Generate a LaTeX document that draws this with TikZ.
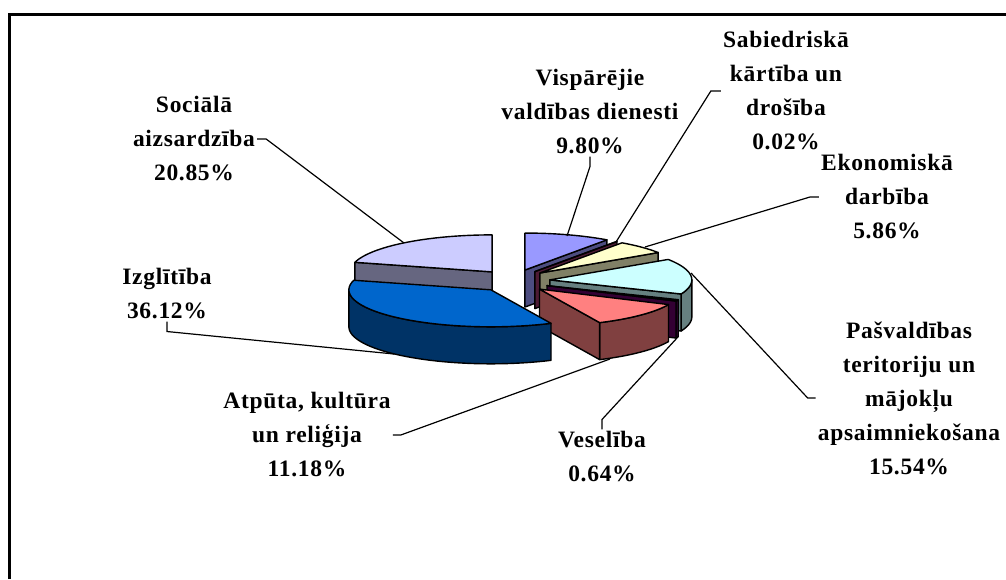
\documentclass[tikz,border=0pt]{standalone}
\usepackage{fontspec}
\setmainfont{Liberation Serif}[LetterSpace=3]
\usetikzlibrary{calc}

\definecolor{vispTop}{HTML}{9999FF}  \definecolor{vispSide}{HTML}{4D4D80}
\definecolor{sabTop}{HTML}{993366}   \definecolor{sabSide}{HTML}{4D1A33}
\definecolor{ekonTop}{HTML}{FFFFCC}  \definecolor{ekonSide}{HTML}{808066}
\definecolor{pasvTop}{HTML}{CCFFFF}  \definecolor{pasvSide}{HTML}{668080}
\definecolor{veselTop}{HTML}{660066} \definecolor{veselSide}{HTML}{330033}
\definecolor{atpTop}{HTML}{FF8080}   \definecolor{atpSide}{HTML}{804040}
\definecolor{izglTop}{HTML}{0066CC}  \definecolor{izglSide}{HTML}{003366}
\definecolor{socTop}{HTML}{CCCCFF}   \definecolor{socSide}{HTML}{666680}

\tikzset{
  face/.style={draw=black, line width=1.4pt, line join=round},
  leader/.style={draw=black, line width=1.2pt},
  lbl/.style={font=\fontsize{23.5}{34}\selectfont\bfseries, align=center, inner sep=2pt},
}

% one exploded slice: start angle, end angle (clockwise from top), top colour, side colour
\newcommand\pieslice[4]{%
  \pgfmathsetmacro\slMid{(#1+#2)/2}
  \pgfmathsetmacro\slX{514+36*sin(\slMid)}
  \pgfmathsetmacro\slY{281-11.5*cos(\slMid)}
  % outer side
  \pgfmathsetmacro\slA{max(#1,90)}
  \pgfmathsetmacro\slB{min(#2,270)}
  \pgfmathtruncatemacro\slVis{\slA<\slB}
  \ifnum\slVis=1
    \filldraw[face, fill=#4] plot[domain=\slA:\slB, samples=40] ({\slX+142*sin(\x)},{\slY-37*cos(\x)})
      -- plot[domain=\slB:\slA, samples=40] ({\slX+142*sin(\x)},{\slY-37*cos(\x)+37}) -- cycle;
  \fi
  % cut faces
  \pgfmathtruncatemacro\slVis{#1>180}
  \ifnum\slVis=1
    \filldraw[face, fill=#4] (\slX,\slY) -- ({\slX+142*sin(#1)},{\slY-37*cos(#1)}) -- ++(0,37) -- (\slX,{\slY+37}) -- cycle;
  \fi
  \pgfmathtruncatemacro\slVis{#2<180}
  \ifnum\slVis=1
    \filldraw[face, fill=#4] (\slX,\slY) -- ({\slX+142*sin(#2)},{\slY-37*cos(#2)}) -- ++(0,37) -- (\slX,{\slY+37}) -- cycle;
  \fi
  % top
  \filldraw[face, fill=#3] (\slX,\slY) -- plot[domain=#1:#2, samples=40] ({\slX+142*sin(\x)},{\slY-37*cos(\x)}) -- cycle;
}

\begin{document}
\begin{tikzpicture}[x=1pt, y=-1pt]
  \useasboundingbox (0,0) rectangle (1006,579);
  \fill[white] (0,0) rectangle (1006,579);

  % frame
  \draw[line width=3pt] (9.5,579) -- (9.5,14.5) -- (1006,14.5);

  % slices, back to front
  \pieslice{0}{35.28}{vispTop}{vispSide}
  \pieslice{35.28}{35.35}{sabTop}{sabSide}
  \pieslice{284.98}{360}{socTop}{socSide}
  \pieslice{35.35}{56.45}{ekonTop}{ekonSide}
  \pieslice{56.45}{112.39}{pasvTop}{pasvSide}
  \pieslice{112.39}{114.70}{veselTop}{veselSide}
  \pieslice{114.70}{154.95}{atpTop}{atpSide}
  \pieslice{154.95}{284.98}{izglTop}{izglSide}

  % leader ends on the pie
  \coordinate (visppt) at (567,236);
  \coordinate (sabpt) at (616,242);
  \coordinate (ekonpt) at (645,247);
  \coordinate (pasvpt) at (691,273);
  \coordinate (veselpt) at (677,338);
  \coordinate (atppt) at (610,359);
  \coordinate (izglpt) at (394,354);
  \coordinate (socpt) at (404,243);

  % labels
  \node[lbl] (visplbl) at (590,112) {Vispārējie\\valdības dienesti\\9.80\%};
  \node[lbl] (sablbl) at (786,91) {Sabiedriskā\\kārtība un\\drošība\\0.02\%};
  \node[lbl] (ekonlbl) at (887,197) {Ekonomiskā\\darbība\\5.86\%};
  \node[lbl] (pasvlbl) at (909,398) {Pašvaldības\\teritoriju un\\mājokļu\\apsaimniekošana\\15.54\%};
  \node[lbl] (vesellbl) at (602,457) {Veselība\\0.64\%};
  \node[lbl] (atplbl) at (307,435) {Atpūta, kultūra\\un reliģija\\11.18\%};
  \node[lbl] (izgllbl) at (167,294) {Izglītība\\36.12\%};
  \node[lbl] (soclbl) at (194,139) {Sociālā\\aizsardzība\\20.85\%};

  % leaders
  \draw[leader] (visplbl.south) -- ++(0,10) -- (visppt);
  \draw[leader] (sablbl.west) -- ++(-10,0) -- (sabpt);
  \draw[leader] (ekonlbl.west) -- ++(-9,0) -- (ekonpt);
  \draw[leader] (pasvlbl.west) -- ++(-8,0) -- (pasvpt);
  \draw[leader] (vesellbl.north) -- ++(0,-10) -- (veselpt);
  \draw[leader] (atplbl.east) -- ++(8,0) -- (atppt);
  \draw[leader] (izgllbl.south) -- ++(0,10) -- (izglpt);
  \draw[leader] (soclbl.east) -- ++(9,0) -- (socpt);
\end{tikzpicture}
\end{document}
